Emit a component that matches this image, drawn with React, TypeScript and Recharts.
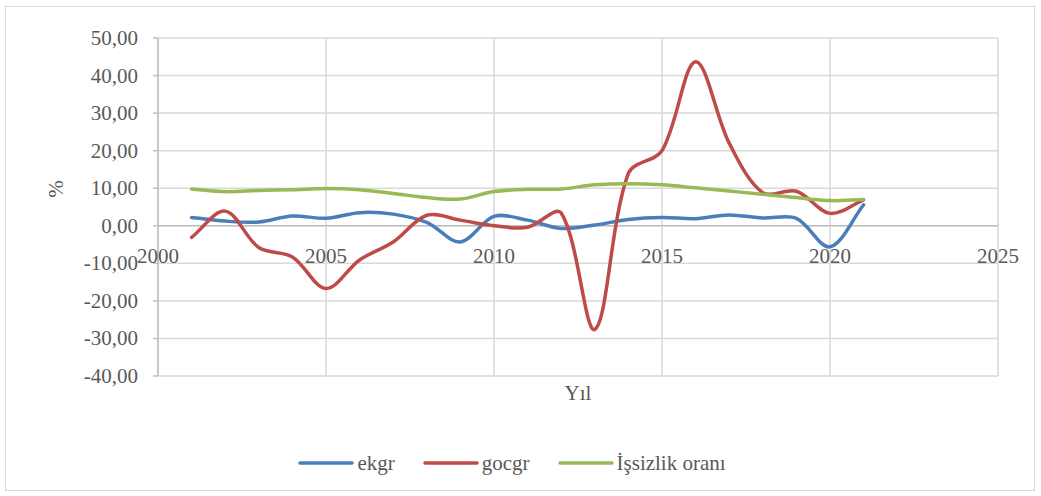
import React, { useEffect, useState } from 'react';
import { LineChart, Line, XAxis, YAxis, CartesianGrid, Legend, ReferenceLine } from 'recharts';

const years = [2001, 2002, 2003, 2004, 2005, 2006, 2007, 2008, 2009, 2010, 2011, 2012, 2013, 2014, 2015, 2016, 2017, 2018, 2019, 2020, 2021];
const ekgr = [2.2, 1.25, 1.0, 2.6, 2.0, 3.5, 3.1, 0.9, -4.3, 2.5, 1.5, -0.7, 0.2, 1.7, 2.2, 1.9, 2.9, 2.05, 2.0, -5.6, 5.6];
const gocgr = [-3.1, 3.9, -5.8, -8.3, -16.7, -9.1, -4.3, 2.8, 1.5, 0.0, -0.4, 3.4, -27.6, 14.0, 20.0, 43.7, 22.0, 8.8, 9.2, 3.3, 6.9];
const issizlik = [9.8, 9.1, 9.4, 9.6, 9.9, 9.6, 8.6, 7.5, 7.1, 9.1, 9.7, 9.8, 10.9, 11.2, 10.9, 10.1, 9.25, 8.4, 7.5, 6.7, 7.0];
const xTicks = [2000, 2005, 2010, 2015, 2020, 2025];
const yTicks = [-40, -30, -20, -10, 0, 10, 20, 30, 40, 50];

const data = years.map((y, i) => ({ year: y, ekgr: ekgr[i], gocgr: gocgr[i], issizlik: issizlik[i] }));

const FONT = 'Liberation Serif';
const TEXT = '#595959';

// Excel-like smoothed line: Bezier through points, tangent lengths scaled by segment lengths
const excelCurve = (context: any) => {
  let pts: number[][] = [];
  const dist = (a: number[], b: number[]) => Math.hypot(b[0] - a[0], b[1] - a[1]);
  return {
    areaStart() {},
    areaEnd() {},
    lineStart() { pts = []; },
    point(x: number, y: number) { pts.push([+x, +y]); },
    lineEnd() {
      if (!pts.length) return;
      context.moveTo(pts[0][0], pts[0][1]);
      for (let i = 0; i < pts.length - 1; i++) {
        const p0 = pts[i - 1] || pts[i];
        const p1 = pts[i];
        const p2 = pts[i + 1];
        const p3 = pts[i + 2] || pts[i + 1];
        const d01 = dist(p0, p1);
        const d12 = dist(p1, p2);
        const d23 = dist(p2, p3);
        const f1 = d01 + d12 > 0 ? d12 / (d01 + d12) / 3 : 0;
        const f2 = d12 + d23 > 0 ? d12 / (d12 + d23) / 3 : 0;
        const c1x = p1[0] + (p2[0] - p0[0]) * f1;
        const c1y = p1[1] + (p2[1] - p0[1]) * f1;
        const c2x = p2[0] - (p3[0] - p1[0]) * f2;
        const c2y = p2[1] - (p3[1] - p1[1]) * f2;
        context.bezierCurveTo(c1x, c1y, c2x, c2y, p2[0], p2[1]);
      }
    },
  };
};

const fmt = (v: number) => v.toFixed(2).replace('.', ',');

const XTick = (props: any) => {
  const { x, y, payload } = props;
  return (
    <text x={x} y={y - 115} textAnchor="middle" fill={TEXT} fontFamily={FONT} fontSize={21}>
      {payload.value}
    </text>
  );
};

const YTick = (props: any) => {
  const { x, y, payload } = props;
  return (
    <text x={x} y={y} dy={7} textAnchor="end" fill={TEXT} fontFamily={FONT} fontSize={21}>
      {fmt(payload.value)}
    </text>
  );
};

const LegendContent = (props: any) => {
  const items = props.payload || [];
  return (
    <div style={{ display: 'flex', justifyContent: 'center', alignItems: 'center', height: 26, paddingLeft: 26, fontFamily: FONT, fontSize: 21, color: TEXT }}>
      {items.map((it: any, i: number) => (
        <div key={i} style={{ display: 'flex', alignItems: 'center', marginRight: i < items.length - 1 ? 28 : 0 }}>
          <svg width={56} height={10} style={{ marginRight: 3 }}>
            <line x1={2} y1={5} x2={54} y2={5} stroke={it.color} strokeWidth={3.5} strokeLinecap="round" />
          </svg>
          <span style={{ fontFamily: FONT }}>{it.value}</span>
        </div>
      ))}
    </div>
  );
};

const AxisTitle = (props: any) => {
  const { viewBox, value, rotate } = props;
  if (rotate) {
    const cx = 56;
    const cy = viewBox.y + viewBox.height / 2 - 18;
    return (
      <text x={cx} y={cy} transform={`rotate(-90, ${cx}, ${cy})`} textAnchor="middle" dominantBaseline="central" fill={TEXT} fontFamily={FONT} fontSize={21}>
        {value}
      </text>
    );
  }
  return (
    <text x={viewBox.x + viewBox.width / 2} y={viewBox.y + 24} textAnchor="middle" fill={TEXT} fontFamily={FONT} fontSize={21}>
      {value}
    </text>
  );
};

export default function App() {
  const [fontKey, setFontKey] = useState(0);
  useEffect(() => {
    const d: any = document;
    if (d.fonts && d.fonts.load) {
      d.fonts.load('21px "Liberation Serif"', 'İşsizlik oranı Yıl 50,00').then(() => setFontKey(1)).catch(() => {});
    }
  }, []);
  return (
    <div key={fontKey} style={{ position: 'absolute', left: 0, top: 0, width: 1041, height: 496, background: '#fff', fontFamily: FONT }}>
      <div style={{ position: 'absolute', left: 5, top: 6, width: 1030, height: 485, border: '1px solid #d9d9d9', boxSizing: 'border-box' }} />
      <LineChart width={1041} height={496} data={data} margin={{ top: 38, right: 43, left: 0, bottom: 20 }}>
        <CartesianGrid stroke="#d9d9d9" strokeWidth={1.5} />
        <XAxis
          dataKey="year"
          type="number"
          domain={[2000, 2025]}
          ticks={xTicks}
          height={74}
          axisLine={false}
          tickLine={false}
          tickSize={0}
          tick={<XTick />}
          label={<AxisTitle value="Yıl" />}
        />
        <YAxis
          domain={[-40, 50]}
          ticks={yTicks}
          width={158}
          axisLine={{ stroke: '#bfbfbf', strokeWidth: 1.5 }}
          tickLine={{ stroke: '#bfbfbf', strokeWidth: 1.5 }}
          tickSize={5}
          tickMargin={15}
          tick={<YTick />}
          label={<AxisTitle value="%" rotate />}
        />
        <ReferenceLine y={0} stroke="#bfbfbf" strokeWidth={1.5} />
        <Legend verticalAlign="bottom" content={<LegendContent />} />
        <Line dataKey="ekgr" name="ekgr" stroke="#4A7EBB" strokeWidth={3.5} dot={false} type={excelCurve as any} isAnimationActive={false} strokeLinecap="round" />
        <Line dataKey="gocgr" name="gocgr" stroke="#BE4B48" strokeWidth={3.5} dot={false} type={excelCurve as any} isAnimationActive={false} strokeLinecap="round" />
        <Line dataKey="issizlik" name="İşsizlik oranı" stroke="#98B954" strokeWidth={3.5} dot={false} type={excelCurve as any} isAnimationActive={false} strokeLinecap="round" />
      </LineChart>
    </div>
  );
}
